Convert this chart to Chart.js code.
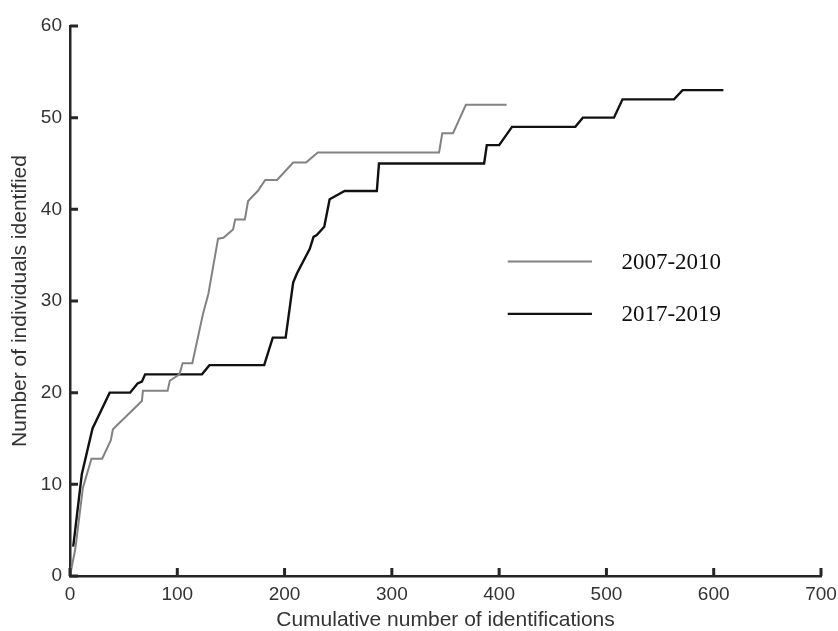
<!DOCTYPE html>
<html>
<head>
<meta charset="utf-8">
<script src="https://cdn.jsdelivr.net/npm/chart.js@4.4.1/dist/chart.umd.min.js"></script>
<style>
  html, body { margin: 0; padding: 0; background: #fff; }
  #wrap { width: 838px; height: 631px; }
</style>
</head>
<body>
<div id="wrap"><canvas id="chart-area" width="838" height="631"></canvas></div>
<script>
// 2007-2010 (grey)
var x_2007 = [0, 5, 12, 20, 30, 38, 40, 67, 68, 91, 93, 102, 105, 114, 124, 129, 138, 143, 152, 154, 163, 166, 175, 182, 193, 208, 220, 231, 344, 347, 357, 369, 407];
var y_2007 = [0, 3, 9.6, 12.8, 12.8, 14.8, 16, 19.1, 20.2, 20.2, 21.3, 22, 23.2, 23.2, 28.6, 30.8, 36.8, 36.9, 37.8, 38.9, 38.9, 40.9, 42, 43.2, 43.2, 45.1, 45.1, 46.2, 46.2, 48.3, 48.3, 51.4, 51.4];

// 2017-2019 (black)
var x_2017 = [3, 11, 21, 37, 56, 63, 67, 70, 123, 130, 181, 189, 201, 208, 211.5, 223.5, 227, 230, 237, 242, 256, 286, 288, 386, 388.5, 400, 412, 471, 478, 507, 515, 563, 571, 609];
var y_2017 = [3.2, 11.1, 16.1, 20, 20, 21, 21.2, 22, 22, 23, 23, 26, 26, 32, 33, 35.7, 37, 37.2, 38.1, 41.1, 42, 42, 45, 45, 47, 47, 49, 49, 50, 50, 52, 52, 53, 53];

var series_labels = ['2007-2010', '2017-2019'];
var x_ticks = [0, 100, 200, 300, 400, 500, 600, 700];
var y_ticks = [0, 10, 20, 30, 40, 50, 60];

function toPoints(xs, ys){
  var pts = [];
  for(var i = 0; i < xs.length; i++){
    pts.push({x: xs[i], y: ys[i]});
  }
  return pts;
}

// inward tick marks + legend drawn inside the plot
var extras = {
  id: 'extras',
  afterDraw: function(chart){
    var ctx = chart.ctx;
    var xs = chart.scales.x, ys = chart.scales.y;
    var x0 = xs.getPixelForValue(0), y0 = ys.getPixelForValue(0);
    ctx.save();
    ctx.strokeStyle = '#262626';
    ctx.lineWidth = 3;
    ctx.beginPath();
    for(var i = 0; i < x_ticks.length; i++){
      var px = xs.getPixelForValue(x_ticks[i]);
      ctx.moveTo(px, y0); ctx.lineTo(px, y0 - 8);
    }
    for(var j = 0; j < y_ticks.length; j++){
      var py = ys.getPixelForValue(y_ticks[j]);
      ctx.moveTo(x0, py); ctx.lineTo(x0 + 8, py);
    }
    ctx.stroke();

    // legend
    var rows = [{c: 'rgb(130,130,130)', w: 2, yv: 34.3}, {c: '#111', w: 2.4, yv: 28.6}];
    ctx.font = '23px "Liberation Serif", "Times New Roman", serif';
    ctx.textBaseline = 'middle';
    ctx.fillStyle = '#111';
    for(var k = 0; k < rows.length; k++){
      var ly = ys.getPixelForValue(rows[k].yv);
      ctx.strokeStyle = rows[k].c;
      ctx.lineWidth = rows[k].w;
      ctx.beginPath();
      ctx.moveTo(xs.getPixelForValue(408), ly);
      ctx.lineTo(xs.getPixelForValue(486.5), ly);
      ctx.stroke();
      ctx.fillText(series_labels[k], xs.getPixelForValue(514), ly + 1);
    }
    ctx.restore();
  }
};

var config = {
  type: 'scatter',
  data: {
    datasets: [
      {
        label: series_labels[0],
        data: toPoints(x_2007, y_2007),
        showLine: true,
        borderColor: 'rgb(130,130,130)',
        borderWidth: 2,
        pointRadius: 0,
        tension: 0
      },
      {
        label: series_labels[1],
        data: toPoints(x_2017, y_2017),
        showLine: true,
        borderColor: '#111',
        borderWidth: 2.4,
        pointRadius: 0,
        tension: 0
      }
    ]
  },
  options: {
    responsive: false,
    animation: false,
    layout: {padding: {left: 0, right: 17, top: 26, bottom: 0}},
    plugins: {legend: {display: false}, tooltip: {enabled: false}},
    scales: {
      x: {
        type: 'linear',
        min: 0, max: 700,
        afterBuildTicks: function(scale){ scale.ticks = x_ticks.map(function(v){ return {value: v}; }); },
        afterFit: function(scale){ scale.height = 55; scale.paddingRight = 0; },
        grid: {display: false, drawTicks: false},
        border: {display: true, color: '#262626', width: 2.5},
        ticks: {color: '#333', padding: 7, maxRotation: 0, font: {family: 'Liberation Sans, Arial, sans-serif', size: 19}},
        title: {display: true, text: 'Cumulative number of identifications', color: '#333', padding: {top: 0, bottom: -2}, font: {family: 'Liberation Sans, Arial, sans-serif', size: 21}}
      },
      y: {
        type: 'linear',
        min: 0, max: 60,
        afterBuildTicks: function(scale){ scale.ticks = y_ticks.map(function(v){ return {value: v}; }); },
        afterFit: function(scale){ scale.width = 70; },
        grid: {display: false, drawTicks: false},
        border: {display: true, color: '#262626', width: 2.5},
        ticks: {color: '#333', padding: 8, font: {family: 'Liberation Sans, Arial, sans-serif', size: 19}},
        title: {display: true, text: 'Number of individuals identified', color: '#333', padding: {top: 8, bottom: 0}, font: {family: 'Liberation Sans, Arial, sans-serif', size: 21}}
      }
    }
  },
  plugins: [extras]
};

var ctx = document.getElementById('chart-area').getContext('2d');
var chart = new Chart(ctx, config);
</script>
</body>
</html>
